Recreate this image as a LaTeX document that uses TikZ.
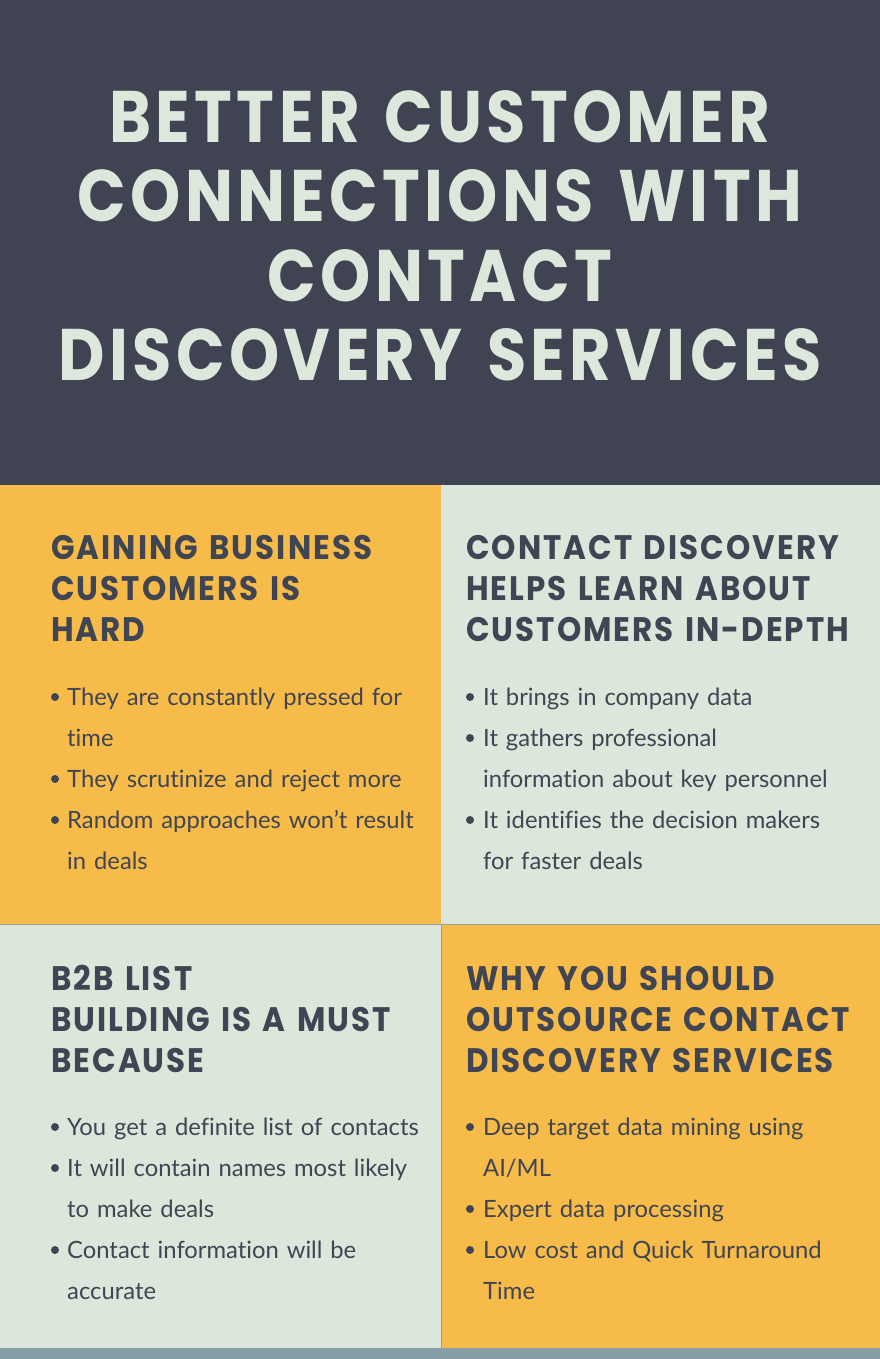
\documentclass[tikz,border=0pt]{standalone}
\usepackage{fontspec}
\usepackage{tikz}
\newfontfamily\titlefont{Poppins}[FakeStretch=0.875,LetterSpace=6]
\newfontfamily\headfont{Poppins}[FakeStretch=0.91,LetterSpace=6]
\newfontfamily\bodyfont{Lato}[Ligatures=NoCommon]
\definecolor{slate}{HTML}{3F4352}
\definecolor{ink}{HTML}{404553}
\definecolor{mango}{HTML}{F7BB4A}
\definecolor{sage}{HTML}{DDE6DA}
\definecolor{mist}{HTML}{DDE7DB}
\definecolor{steel}{HTML}{869EA5}
\definecolor{rule}{HTML}{9AA49C}

\tikzset{
  panel/.style={fill=#1, draw=none},
  head/.style={anchor=base west, inner sep=0, text width=410pt, align=left,
    text=ink, font=\headfont\bfseries\fontsize{34}{41}\selectfont},
  item/.style={anchor=base west, inner sep=0, text width=390pt, align=left,
    text=ink, font=\bodyfont\fontsize{23.8}{41}\selectfont},
  dot/.style={circle, fill=ink, inner sep=0, minimum size=8pt},
}

\begin{document}
\begin{tikzpicture}[x=1pt,y=-1pt]
  \useasboundingbox (0,0) rectangle (880,1359);

  % background panels
  \path[panel=slate] (0,0) rectangle (880,485);
  \path[panel=mango] (0,485) rectangle (441,924);
  \path[panel=sage]  (441,485) rectangle (880,924);
  \path[panel=sage]  (0,924) rectangle (441,1348);
  \path[panel=mango] (441,924) rectangle (880,1348);
  \path[panel=steel] (0,1348) rectangle (880,1359);
  \draw[rule, line width=1pt] (0,924) -- (880,924);
  \draw[mango!80!black, line width=0.6pt] (441,924) -- (441,1348);

  % title
  \node[anchor=base, inner sep=0, text width=880pt, align=center, text=mist,
    font=\titlefont\bfseries\fontsize{73}{79}\selectfont] (title) at (440,143)
    {BETTER CUSTOMER\\CONNECTIONS WITH\\CONTACT\\DISCOVERY SERVICES};

  % top left
  \node[head] (gain) at (51,559) {GAINING BUSINESS\\CUSTOMERS IS\\HARD};
  \node[dot]  (g1) at (55,697) {};
  \node[item] (gaina) at (67,705) {They are constantly pressed for\\time};
  \node[dot]  (g2) at (55,779) {};
  \node[item] (gainb) at (67,787) {They scrutinize and reject more};
  \node[dot]  (g3) at (55,820) {};
  \node[item] (gainc) at (67,828) {Random approaches won’t result\\in deals};

  % top right
  \node[head] (help) at (466,559) {CONTACT DISCOVERY\\HELPS LEARN ABOUT\\CUSTOMERS IN-DEPTH};
  \node[dot]  (h1) at (470,697) {};
  \node[item] (helpa) at (483,705) {It brings in company data};
  \node[dot]  (h2) at (470,738) {};
  \node[item] (helpb) at (483,746) {It gathers professional\\information about key personnel};
  \node[dot]  (h3) at (470,820) {};
  \node[item] (helpc) at (483,828) {It identifies the decision makers\\for faster deals};

  % bottom left
  \node[head] (must) at (51,990) {B2B LIST\\BUILDING IS A MUST\\BECAUSE};
  \node[dot]  (m1) at (55,1127) {};
  \node[item] (musta) at (67,1135) {You get a definite list of contacts};
  \node[dot]  (m2) at (55,1168) {};
  \node[item] (mustb) at (67,1176) {It will contain names most likely\\to make deals};
  \node[dot]  (m3) at (55,1250) {};
  \node[item] (mustc) at (67,1258) {Contact information will be\\accurate};

  % bottom right
  \node[head] (why) at (466,990) {WHY YOU SHOULD\\OUTSOURCE CONTACT\\DISCOVERY SERVICES};
  \node[dot]  (w1) at (470,1127) {};
  \node[item] (whya) at (483,1135) {Deep target data mining using\\AI/ML};
  \node[dot]  (w2) at (470,1209) {};
  \node[item] (whyb) at (483,1217) {Expert data processing};
  \node[dot]  (w3) at (470,1250) {};
  \node[item] (whyc) at (483,1258) {Low cost and Quick Turnaround\\Time};
\end{tikzpicture}
\end{document}
